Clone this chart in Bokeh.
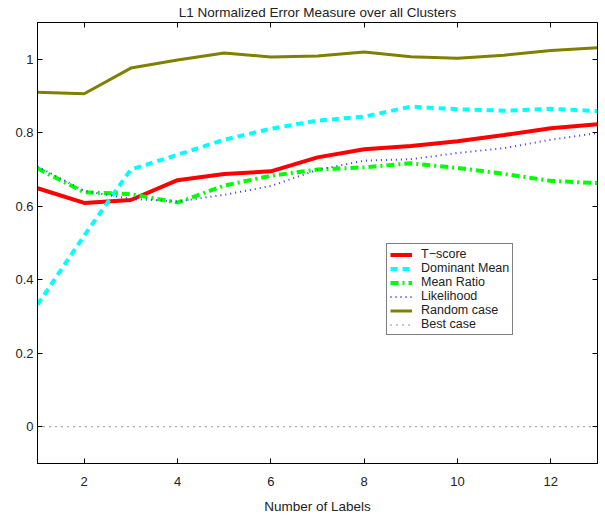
from bokeh.plotting import figure
from bokeh.models import Range1d, LinearAxis, FixedTicker, Title, Legend, LegendItem
from bokeh.embed import file_html
from bokeh.resources import INLINE

# ---- data ----
num_labels = [1, 2, 3, 4, 5, 6, 7, 8, 9, 10, 11, 12, 13]
t_score = [0.649, 0.609, 0.617, 0.671, 0.688, 0.695, 0.733, 0.755, 0.764, 0.777, 0.794, 0.812, 0.823]
dominant_mean = [0.332, 0.520, 0.700, 0.740, 0.781, 0.811, 0.833, 0.844, 0.871, 0.864, 0.860, 0.865, 0.859]
mean_ratio = [0.703, 0.638, 0.633, 0.610, 0.656, 0.683, 0.700, 0.706, 0.717, 0.704, 0.688, 0.669, 0.663]
likelihood = [0.708, 0.642, 0.620, 0.613, 0.631, 0.655, 0.699, 0.724, 0.728, 0.745, 0.758, 0.781, 0.799]
random_case = [0.910, 0.906, 0.976, 0.998, 1.017, 1.006, 1.009, 1.020, 1.007, 1.003, 1.011, 1.024, 1.031]
best_case = [0, 0, 0, 0, 0, 0, 0, 0, 0, 0, 0, 0, 0]

x_ticks = [2, 4, 6, 8, 10, 12]
y_ticks = [0, 0.2, 0.4, 0.6, 0.8, 1]
y_tick_labels = ["0", "0.2", "0.4", "0.6", "0.8", "1"]

title_text = "L1 Normalized Error Measure over all Clusters"
x_label_text = "Number of Labels"

FONT = "Liberation Sans"

p = figure(frame_width=560, frame_height=441, output_backend="svg", toolbar_location=None,
           x_range=Range1d(1, 13), y_range=Range1d(-0.1, 1.1),
           min_border_left=37, min_border_right=3, min_border_top=0, min_border_bottom=0,
           x_axis_location=None, y_axis_location=None)
p.grid.visible = False
p.outline_line_color = "black"
p.outline_line_width = 1
p.background_fill_color = "white"
p.border_fill_color = "white"

def make_axis(ticks, labels=None, show_labels=True, standoff=5):
    ax = LinearAxis(ticker=FixedTicker(ticks=ticks))
    ax.major_tick_in = 5
    ax.major_tick_out = 0
    ax.minor_tick_line_color = None
    ax.axis_line_color = "black"
    ax.axis_line_width = 1
    ax.major_tick_line_color = "black"
    ax.major_label_text_font = FONT
    ax.major_label_text_color = "#222222"
    ax.major_label_text_font_size = "13px"
    if show_labels:
        ax.major_label_standoff = standoff
        if labels:
            ax.major_label_overrides = {t: l for t, l in zip(ticks, labels)}
    else:
        ax.major_label_standoff = 0
        ax.major_label_overrides = {t: "" for t in ticks}
    return ax

p.add_layout(make_axis(y_ticks, y_tick_labels, True, 4), "left")
p.add_layout(make_axis(x_ticks, None, True, 13), "below")
p.add_layout(make_axis(y_ticks, None, False), "right")
p.add_layout(make_axis(x_ticks, None, False), "above")

p.add_layout(Title(text=title_text, align="center", offset=-15,
                   text_font=FONT, text_font_size="13.5px", text_font_style="normal",
                   text_color="#222222", standoff=5), "above")
p.add_layout(Title(text=x_label_text, align="center", offset=-46,
                   text_font=FONT, text_font_size="13.5px", text_font_style="normal",
                   text_color="#222222", standoff=16), "below")

r1 = p.line(num_labels, t_score, line_color="#ff0000", line_width=4)
r2 = p.line(num_labels, dominant_mean, line_color="#00ffff", line_width=4, line_dash="7 5")
r3 = p.line(num_labels, mean_ratio, line_color="#00ff00", line_width=4, line_dash="8 4 2 4")
r4 = p.line(num_labels, likelihood, line_color="#3333ff", line_width=2, line_dash="1 4")
r5 = p.line(num_labels, random_case, line_color="#808000", line_width=3)
r6 = p.line(num_labels, best_case, line_color="#333333", line_width=1.2, line_dash="1 5")

legend = Legend(items=[
    LegendItem(label="T\u2212score", renderers=[r1]),
    LegendItem(label="Dominant Mean", renderers=[r2]),
    LegendItem(label="Mean Ratio", renderers=[r3]),
    LegendItem(label="Likelihood", renderers=[r4]),
    LegendItem(label="Random case", renderers=[r5]),
    LegendItem(label="Best case", renderers=[r6]),
], location=(349, 128))
legend.label_text_font = FONT
legend.label_text_font_size = "12.5px"
legend.label_text_color = "#222222"
legend.glyph_width = 22
legend.glyph_height = 13
legend.label_height = 13
legend.spacing = 0
legend.padding = 3
legend.margin = 0
legend.label_standoff = 9
legend.border_line_color = "black"
legend.border_line_width = 1.2
legend.background_fill_alpha = 1
p.add_layout(legend, "center")

open("out.html", "w").write(file_html(p, INLINE))
